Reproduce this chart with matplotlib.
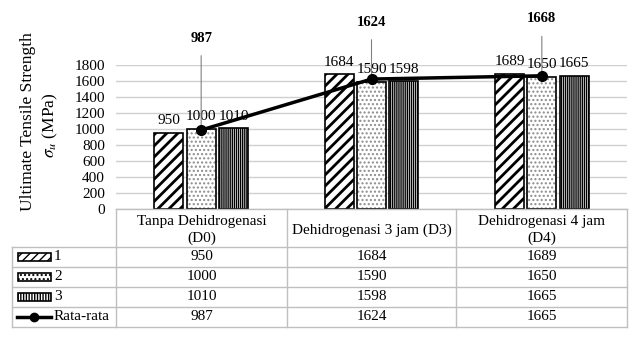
import numpy as np
import matplotlib.pyplot as plt
from matplotlib.patches import Rectangle

plt.rcParams['font.family'] = ['Liberation Serif', 'DejaVu Serif']
plt.rcParams['mathtext.fontset'] = 'stix'

# data
kategori = ['Tanpa Dehidrogenasi\n(D0)', 'Dehidrogenasi 3 jam (D3)', 'Dehidrogenasi 4 jam\n(D4)']
seri = ['1', '2', '3']
nilai = [[950, 1684, 1689],
         [1000, 1590, 1650],
         [1010, 1598, 1665]]
rata = [987, 1624, 1665]
rata_label = ['987', '1624', '1668']
yticks = list(range(0, 1801, 200))

hatches = ['///', '....', '||||||||']
hatch_lw = [2.0, 1.0, 1.0]
hatch_col = ['black', '#8c8c8c', 'black']
W, H = 638, 338

fig = plt.figure(figsize=(W / 100, H / 100), dpi=100)
# plot area in pixels: x 116..627, y 65..209
ax = fig.add_axes([116 / W, 1 - 209 / H, (627 - 116) / W, (209 - 65) / H])

x = np.arange(len(kategori))
bw, step = 0.17, 0.19
for i, s in enumerate(seri):
    xs = x + (i - 1) * step
    ax.bar(xs, nilai[i], bw, color='white', edgecolor=hatch_col[i], linewidth=0,
           hatch=hatches[i], hatch_linewidth=hatch_lw[i], zorder=2)
    b = ax.bar(xs, nilai[i], bw, fill=False, edgecolor='black', linewidth=1.2, zorder=3)
    ax.bar_label(b, labels=[str(v) for v in nilai[i]], padding=4, fontsize=11)

ax.plot(x, rata, color='black', lw=2.5, marker='o', ms=7, zorder=4)
offs = [92, 57, 57]
for xi, v, lab, o in zip(x, rata, rata_label, offs):
    ax.annotate(lab, (xi, v), xytext=(0, o * 0.72), textcoords='offset points',
                ha='center', va='center', fontsize=10.5, fontweight='bold',
                arrowprops=dict(arrowstyle='-', color='#808080', lw=0.8,
                                shrinkA=6, shrinkB=0), annotation_clip=False)

ax.set_xlim(-0.5, 2.5)
ax.set_ylim(0, 1800)
ax.set_yticks(yticks)
ax.set_yticklabels([str(t) for t in yticks], fontsize=11)
ax.tick_params(axis='y', length=0, pad=8)
ax.set_xticks([])
ax.grid(axis='y', color='#d0d0d0', lw=1.0, zorder=0)
for sp in ax.spines.values():
    sp.set_visible(False)

fig.text(28 / W, 1 - 122 / H, 'Ultimate Tensile Strength', rotation=90,
         ha='center', va='center', fontsize=12.5)
fig.text(50 / W, 1 - 125 / H, r'$\sigma_u$ (MPa)', rotation=90,
         ha='center', va='center', fontsize=12.5)

# data table
tb = fig.add_axes([0, 0, 1, 1], facecolor='none')
tb.set_xlim(0, W)
tb.set_ylim(H, 0)
tb.axis('off')
gc = '#bfbfbf'
cols = [116, 287, 456, 627]
rows = [247, 267, 287, 307, 327]
tb.plot([116, 627], [209, 209], color=gc, lw=1)
for y in rows:
    tb.plot([12, 627], [y, y], color=gc, lw=1)
for c in cols:
    tb.plot([c, c], [209, 327], color=gc, lw=1)
tb.plot([12, 12], [247, 327], color=gc, lw=1)

for j, k in enumerate(kategori):
    tb.text((cols[j] + cols[j + 1]) / 2, 230, k, ha='center', va='center',
            fontsize=11, linespacing=1.3)

tabel = nilai + [rata]
nama = seri + ['Rata-rata']
key_hatch = ['////', '....', '||||||']
for r, (nm, vals) in enumerate(zip(nama, tabel)):
    yc = (rows[r] + rows[r + 1]) / 2
    for j, v in enumerate(vals):
        tb.text((cols[j] + cols[j + 1]) / 2, yc, str(v), ha='center', va='center',
                fontsize=11)
    tb.text(54, yc, nm, ha='left', va='center', fontsize=11)
    if r < 3:
        tb.add_patch(Rectangle((18, yc - 4), 33, 8, facecolor='white',
                               edgecolor='black', lw=1.2, hatch=key_hatch[r]))
    else:
        tb.plot([17, 51], [yc, yc], color='black', lw=2.5)
        tb.plot([34], [yc], marker='o', color='black', ms=6)

fig.savefig('out.png', dpi=100)
